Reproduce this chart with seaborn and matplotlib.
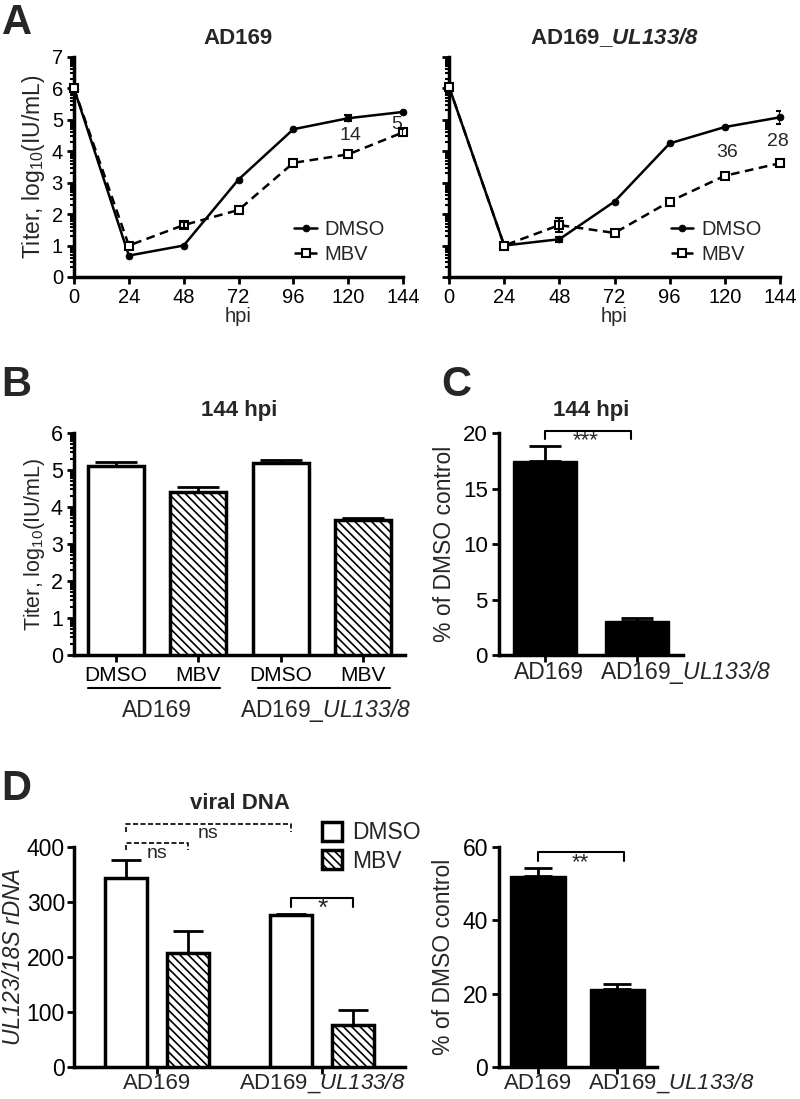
import numpy as np
import pandas as pd
import matplotlib.pyplot as plt
import seaborn as sns
from matplotlib.patches import Patch

# Panel A - growth curves
hpi = [0, 24, 48, 72, 96, 120, 144]
ad169_dmso = [6.0, 0.68, 1.0, 3.1, 4.7, 5.05, 5.25]
ad169_dmso_err = [0, 0, 0, 0, 0, 0.1, 0]
ad169_mbv = [6.0, 1.0, 1.65, 2.13, 3.63, 3.9, 4.6]
ad169_mbv_err = [0, 0, 0.1, 0, 0, 0, 0.1]
ul_dmso = [6.05, 1.0, 1.2, 2.4, 4.25, 4.77, 5.08]
ul_dmso_err = [0, 0, 0.08, 0, 0, 0, 0.2]
ul_mbv = [6.05, 1.0, 1.65, 1.4, 2.4, 3.22, 3.62]
ul_mbv_err = [0, 0, 0.22, 0, 0, 0, 0]
ad169_fold_x = [121, 141]
ad169_fold_y = [4.49, 4.84]
ad169_fold = ["14", "5"]
ul_fold_x = [121, 143]
ul_fold_y = [3.95, 4.3]
ul_fold = ["36", "28"]

# Panel B - titers at 144 hpi
b_cond = ["AD169 DMSO", "AD169 MBV", "UL DMSO", "UL MBV"]
b_ticklabels = ["DMSO", "MBV", "DMSO", "MBV"]
b_vals = [5.1, 4.4, 5.2, 3.66]
b_err = [0.12, 0.15, 0.08, 0.03]

# Panel C - % of DMSO control
strains = ["AD169", "AD169_UL133/8"]
strain_labels = ["AD169", "AD169_$\\mathsf{UL133/8}$"]
c_vals = [17.5, 3.05]
c_err = [1.3, 0.25]

# Panel D - viral DNA
d_dmso = [343, 276]
d_dmso_err = [33, 2]
d_mbv = [207, 76]
d_mbv_err = [40, 27]
dr_vals = [52.2, 21.4]
dr_err = [2.2, 1.3]

sns.set_style("ticks")
plt.rcParams["font.family"] = ["Liberation Sans", "DejaVu Sans"]
plt.rcParams["mathtext.fontset"] = "custom"
plt.rcParams["mathtext.rm"] = "Liberation Sans"
plt.rcParams["mathtext.it"] = "Liberation Sans:italic"
plt.rcParams["mathtext.sf"] = "Liberation Sans:italic"
plt.rcParams["mathtext.bf"] = "Liberation Sans:bold"
plt.rcParams["mathtext.bfit"] = "Liberation Sans:italic:bold"
plt.rcParams["hatch.linewidth"] = 1.2
plt.rcParams["hatch.color"] = "black"

LAB = 16.5
TITLE = 16
HATCH = "\\\\\\\\"


def style_axis(ax, fs, minor=None):
    sns.despine(ax=ax)
    for s in ["left", "bottom"]:
        ax.spines[s].set_linewidth(2.5)
        ax.spines[s].set_color("black")
    ax.tick_params(which="major", direction="out", length=5, width=2, labelsize=fs,
                   colors="black", pad=3)
    ax.tick_params(which="minor", direction="out", length=3, width=1.5, colors="black")
    if minor is not None:
        ax.set_yticks(minor, minor=True)
    ax.set_facecolor("white")


fig = plt.figure(figsize=(8, 10.99), dpi=100)

log_minor = [n + np.log10(k) for n in range(7) for k in range(2, 10)]

# ---- A ----
axA1 = fig.add_axes([0.0925, 0.7480, 0.4113, 0.2002])
axA2 = fig.add_axes([0.5613, 0.7480, 0.4138, 0.2002])

panels_a = [
    (axA1, ad169_dmso, ad169_dmso_err, ad169_mbv, ad169_mbv_err, ad169_fold_x, ad169_fold_y, ad169_fold),
    (axA2, ul_dmso, ul_dmso_err, ul_mbv, ul_mbv_err, ul_fold_x, ul_fold_y, ul_fold),
]
for ax, dm, dme, mb, mbe, fx, fy, ft in panels_a:
    sns.lineplot(x=hpi, y=dm, ax=ax, color="black", lw=1.8, marker="o", markersize=5,
                 markeredgecolor="black", markeredgewidth=0.5, label="DMSO", clip_on=False, zorder=4)
    sns.lineplot(x=hpi, y=mb, ax=ax, color="black", lw=1.8, linestyle=(0, (3.5, 2.2)), marker="s",
                 markersize=6, markerfacecolor="white", markeredgecolor="black",
                 markeredgewidth=1.5, label="MBV", clip_on=False, zorder=5)
    for vals, errs in [(dm, dme), (mb, mbe)]:
        idx = [i for i, e in enumerate(errs) if e > 0]
        ax.errorbar([hpi[i] for i in idx], [vals[i] for i in idx], yerr=[errs[i] for i in idx],
                    fmt="none", ecolor="black", elinewidth=1.5, capsize=3, capthick=1.5, zorder=6)
    for x, y, t in zip(fx, fy, ft):
        ax.text(x, y, t, ha="center", va="center", fontsize=14)
    ax.set_xlim(0, 144)
    ax.set_ylim(0, 7)
    ax.set_xticks(hpi)
    ax.set_yticks(range(8))
    style_axis(ax, 14.5, log_minor)
    ax.set_xlabel("hpi", fontsize=14.5, labelpad=0)
    ax.legend(frameon=False, loc="center left", bbox_to_anchor=(0.67, 0.157),
              borderaxespad=0, borderpad=0, handlelength=1.1, handletextpad=0.4,
              labelspacing=0.3, fontsize=14.5)

axA1.set_ylabel("Titer, log$_{10}$(IU/mL)", fontsize=LAB, labelpad=3)
axA1.set_title("AD169", fontsize=TITLE, fontweight="bold", pad=9)
axA2.tick_params(labelleft=False)
axA2.set_title("AD169_$\\mathbfit{UL133/8}$", fontsize=TITLE, fontweight="bold", pad=9)

# ---- B ----
axB = fig.add_axes([0.0925, 0.4040, 0.4138, 0.2020])
df_b = pd.DataFrame({"cond": b_cond, "titer": b_vals})
sns.barplot(data=df_b, x="cond", y="titer", color="white", edgecolor="black",
            linewidth=2.5, width=0.68, ax=axB, zorder=3)
for i, bar in enumerate(axB.patches):
    bar.set_facecolor("white")
    if i % 2 == 1:
        bar.set_hatch(HATCH)
bx = [b.get_x() + b.get_width() / 2 for b in axB.patches]
axB.errorbar(bx, b_vals, yerr=[[0] * 4, b_err], fmt="none", ecolor="black",
             elinewidth=2, capsize=15, capthick=2, zorder=2)
axB.set_xlim(-0.51, 3.51)
axB.set_ylim(0, 6)
axB.set_yticks(range(7))
style_axis(axB, 15.5, [n + np.log10(k) for n in range(6) for k in range(2, 10)])
axB.set_xticks(range(4))
axB.set_xticklabels(b_ticklabels)
axB.tick_params(axis="x", labelsize=15)
axB.set_xlabel("")
axB.set_ylabel("Titer, log$_{10}$(IU/mL)", fontsize=15.5, labelpad=3)
axB.set_title("144 hpi", fontsize=TITLE, fontweight="bold", pad=12)
tr = axB.get_xaxis_transform()
for x0, x1, xc, lab in [(-0.34, 1.26, 0.5, strain_labels[0]), (1.72, 3.33, 2.55, strain_labels[1])]:
    axB.plot([x0, x1], [-0.149, -0.149], color="black", lw=1.5, transform=tr, clip_on=False)
    axB.text(xc, -0.248, lab, ha="center", va="center", fontsize=LAB, transform=tr)

# ---- C ----
axC = fig.add_axes([0.6238, 0.4040, 0.23, 0.2020])
df_c = pd.DataFrame({"strain": strains, "pct": c_vals})
sns.barplot(data=df_c, x="strain", y="pct", color="black", edgecolor="black",
            linewidth=1, width=0.7, ax=axC, zorder=3)
for bar in axC.patches:
    bar.set_facecolor("black")
cx = [b.get_x() + b.get_width() / 2 for b in axC.patches]
axC.errorbar(cx, c_vals, yerr=[[0, 0], c_err], fmt="none", ecolor="black",
             elinewidth=2, capsize=11.5, capthick=2, zorder=2)
axC.set_xlim(-0.5, 1.5)
axC.set_ylim(0, 20)
axC.set_yticks([0, 5, 10, 15, 20])
style_axis(axC, 16)
axC.set_xticks([0, 1])
axC.set_xticklabels(["", ""])
axC.set_xlabel("")
trc = axC.get_xaxis_transform()
axC.text(0.04, -0.081, strain_labels[0], ha="center", va="center", fontsize=LAB, transform=trc)
axC.text(1.53, -0.081, strain_labels[1], ha="center", va="center", fontsize=LAB, transform=trc)
axC.set_ylabel("% of DMSO control", fontsize=LAB, labelpad=5)
axC.set_title("144 hpi", fontsize=TITLE, fontweight="bold", pad=12)
axC.plot([0, 0, 0.93, 0.93], [19.5, 20.2, 20.2, 19.5], color="black", lw=1.5, clip_on=False)
axC.text(0.44, 19.3, "***", ha="center", va="center", fontsize=16)

# ---- D left ----
axD = fig.add_axes([0.0925, 0.0291, 0.4138, 0.2002])
df_d = pd.DataFrame({
    "strain": strains * 2,
    "treatment": ["DMSO", "DMSO", "MBV", "MBV"],
    "dna": d_dmso + d_mbv,
})
sns.barplot(data=df_d, x="strain", y="dna", hue="treatment",
            palette={"DMSO": "white", "MBV": "white"}, edgecolor="black", linewidth=2.5,
            width=0.75, gap=0.32, legend=False, ax=axD, zorder=3)
for bar in axD.containers[1]:
    bar.set_hatch(HATCH)
centers = {}
for cont, vals, errs, name in [(axD.containers[0], d_dmso, d_dmso_err, "DMSO"),
                               (axD.containers[1], d_mbv, d_mbv_err, "MBV")]:
    xs = [b.get_x() + b.get_width() / 2 for b in cont]
    centers[name] = xs
    axD.errorbar(xs, vals, yerr=[[0, 0], errs], fmt="none", ecolor="black",
                 elinewidth=2, capsize=11, capthick=2, zorder=2)
axD.set_xlim(-0.5, 1.5)
axD.set_ylim(0, 400)
axD.set_yticks([0, 100, 200, 300, 400])
style_axis(axD, 16.5)
axD.tick_params(axis="y", pad=1.5)
axD.set_xticks([0, 1])
axD.set_xticklabels([])
axD.set_xlabel("")
trd = axD.get_xaxis_transform()
axD.text(0.0, -0.073, strain_labels[0], ha="center", va="center", fontsize=16, transform=trd)
axD.text(1.0, -0.073, strain_labels[1], ha="center", va="center", fontsize=16, transform=trd)
axD.set_ylabel("UL123/18S rDNA", fontsize=LAB, fontstyle="italic", labelpad=1)
axD.set_title("viral DNA", fontsize=TITLE, fontweight="bold", pad=27)

x1, x3 = centers["DMSO"]
x2, x4 = centers["MBV"]
axD.plot([x1, x1, x2, x2], [395, 407, 407, 395], color="black", lw=1.2, ls=(0, (3, 1.5)), clip_on=False)
axD.text((x1 + x2) / 2, 389, "ns", ha="center", va="center", fontsize=14)
axD.plot([x1, x1, x3, x3], [428, 442, 442, 428], color="black", lw=1.2, ls=(0, (3, 1.5)), clip_on=False)
axD.text((x1 + x3) / 2, 424, "ns", ha="center", va="center", fontsize=14)
axD.plot([x3, x3, x4, x4], [291, 307, 307, 291], color="black", lw=1.5, clip_on=False)
axD.text((x3 + x4) / 2, 287, "*", ha="center", va="center", fontsize=19)

handles = [Patch(facecolor="white", edgecolor="black", linewidth=2.5, label="DMSO"),
           Patch(facecolor="white", edgecolor="black", linewidth=2.5, hatch=HATCH, label="MBV")]
axD.legend(handles=handles, frameon=False, loc="center left", bbox_to_anchor=(0.748, 1.0),
           borderaxespad=0, borderpad=0, handlelength=0.9, handleheight=0.9,
           handletextpad=0.45, labelspacing=0.25, fontsize=LAB)

# ---- D right ----
axE = fig.add_axes([0.6238, 0.0291, 0.1975, 0.2002])
df_e = pd.DataFrame({"strain": strains, "pct": dr_vals})
sns.barplot(data=df_e, x="strain", y="pct", color="black", edgecolor="black",
            linewidth=1, width=0.7, ax=axE, zorder=3)
for bar in axE.patches:
    bar.set_facecolor("black")
ex = [b.get_x() + b.get_width() / 2 for b in axE.patches]
axE.errorbar(ex, dr_vals, yerr=[[0, 0], dr_err], fmt="none", ecolor="black",
             elinewidth=2, capsize=10, capthick=2, zorder=2)
axE.set_xlim(-0.49, 1.5)
axE.set_ylim(0, 60)
axE.set_yticks([0, 20, 40, 60])
style_axis(axE, 16.5)
axE.set_xticks([0, 1])
axE.set_xticklabels(["", ""])
axE.set_xlabel("")
tre = axE.get_xaxis_transform()
axE.text(0.0, -0.073, strain_labels[0], ha="center", va="center", fontsize=16, transform=tre)
axE.text(1.68, -0.073, strain_labels[1], ha="center", va="center", fontsize=16, transform=tre)
axE.set_ylabel("% of DMSO control", fontsize=LAB, labelpad=5)
axE.plot([0, 0, 1.08, 1.08], [56.3, 58.6, 58.6, 56.3], color="black", lw=1.5, clip_on=False)
axE.text(0.53, 55.8, "**", ha="center", va="center", fontsize=16)

# panel letters
for x, y, letter in [(0.002, 0.997, "A"), (0.002, 0.668, "B"), (0.552, 0.668, "C"), (0.002, 0.3, "D")]:
    fig.text(x, y, letter, fontsize=30, fontweight="bold", va="top", ha="left")

fig.savefig("out.png", dpi=100, facecolor="white")
